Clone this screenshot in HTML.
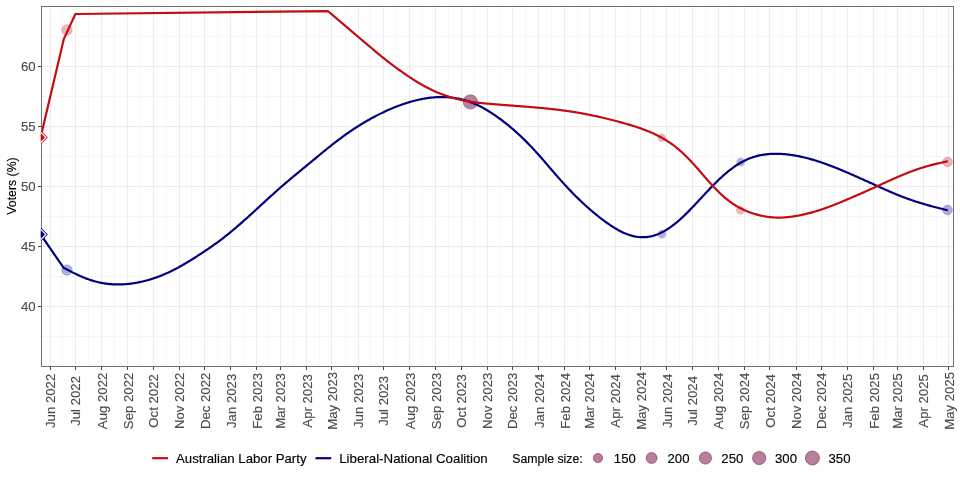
<!DOCTYPE html><html><head><meta charset="utf-8"><style>html,body{margin:0;padding:0;background:#fff;}svg{display:block;font-family:"Liberation Sans",sans-serif;will-change:transform;} text{stroke-width:0.15px;} .g{fill:#4d4d4d;stroke:#4d4d4d;} .k{fill:#000;stroke:#000;}</style></head><body>
<svg width="960" height="480" viewBox="0 0 960 480">
<defs><clipPath id="pc"><rect x="41.50" y="6.00" width="911.80" height="360.20"/></clipPath></defs>
<rect x="0" y="0" width="960" height="480" fill="#fff"/>
<path d="M62.50 6.00V366.20M88.50 6.00V366.20M114.50 6.00V366.20M140.50 6.00V366.20M166.50 6.00V366.20M191.50 6.00V366.20M217.50 6.00V366.20M243.50 6.00V366.20M268.50 6.00V366.20M293.50 6.00V366.20M319.50 6.00V366.20M345.50 6.00V366.20M370.50 6.00V366.20M396.50 6.00V366.20M422.50 6.00V366.20M448.50 6.00V366.20M474.50 6.00V366.20M499.50 6.00V366.20M525.50 6.00V366.20M551.50 6.00V366.20M577.50 6.00V366.20M602.50 6.00V366.20M628.50 6.00V366.20M653.50 6.00V366.20M679.50 6.00V366.20M705.50 6.00V366.20M731.50 6.00V366.20M757.50 6.00V366.20M782.50 6.00V366.20M808.50 6.00V366.20M834.50 6.00V366.20M860.50 6.00V366.20M885.50 6.00V366.20M910.50 6.00V366.20M936.50 6.00V366.20M41.50 336.50H953.30M41.50 276.50H953.30M41.50 216.50H953.30M41.50 156.50H953.30M41.50 96.50H953.30M41.50 36.50H953.30" stroke="#f6f6f6" stroke-width="1" fill="none"/>
<path d="M50.50 6.00V366.20M75.50 6.00V366.20M101.50 6.00V366.20M127.50 6.00V366.20M153.50 6.00V366.20M179.50 6.00V366.20M204.50 6.00V366.20M230.50 6.00V366.20M256.50 6.00V366.20M280.50 6.00V366.20M306.50 6.00V366.20M331.50 6.00V366.20M358.50 6.00V366.20M383.50 6.00V366.20M409.50 6.00V366.20M435.50 6.00V366.20M461.50 6.00V366.20M487.50 6.00V366.20M512.50 6.00V366.20M538.50 6.00V366.20M564.50 6.00V366.20M589.50 6.00V366.20M615.50 6.00V366.20M640.50 6.00V366.20M666.50 6.00V366.20M692.50 6.00V366.20M718.50 6.00V366.20M744.50 6.00V366.20M769.50 6.00V366.20M796.50 6.00V366.20M821.50 6.00V366.20M847.50 6.00V366.20M873.50 6.00V366.20M897.50 6.00V366.20M923.50 6.00V366.20M948.50 6.00V366.20M41.50 306.50H953.30M41.50 246.50H953.30M41.50 186.50H953.30M41.50 126.50H953.30M41.50 66.50H953.30" stroke="#ececec" stroke-width="1" fill="none"/>
<g clip-path="url(#pc)">
<circle cx="67.00" cy="270.00" r="5.30" fill="#000080" fill-opacity="0.30" stroke="#000080" stroke-opacity="0.30" stroke-width="0.6"/>
<circle cx="661.80" cy="234.30" r="4.30" fill="#000080" fill-opacity="0.30"/>
<circle cx="740.60" cy="162.10" r="4.30" fill="#000080" fill-opacity="0.30"/>
<circle cx="947.50" cy="210.00" r="4.90" fill="#000080" fill-opacity="0.30" stroke="#000080" stroke-opacity="0.30" stroke-width="0.6"/>
<circle cx="470.40" cy="101.90" r="7.20" fill="#000080" fill-opacity="0.30" stroke="#000080" stroke-opacity="0.30" stroke-width="0.6"/>
<circle cx="67.00" cy="30.00" r="5.30" fill="#c40c14" fill-opacity="0.30" stroke="#c40c14" stroke-opacity="0.30" stroke-width="0.6"/>
<circle cx="661.80" cy="137.80" r="4.20" fill="#c40c14" fill-opacity="0.30"/>
<circle cx="740.20" cy="210.20" r="4.20" fill="#c40c14" fill-opacity="0.30"/>
<circle cx="947.50" cy="162.00" r="4.90" fill="#c40c14" fill-opacity="0.30" stroke="#c40c14" stroke-opacity="0.30" stroke-width="0.6"/>
<circle cx="470.40" cy="101.90" r="7.20" fill="#c40c14" fill-opacity="0.30" stroke="#c40c14" stroke-opacity="0.30" stroke-width="0.6"/>
<path d="M40.60 234.40 L63.50 267.68 L64.50 268.21 L65.50 268.74 L66.50 269.27 L67.50 269.80 L68.50 270.32 L69.50 270.84 L70.50 271.36 L71.50 271.87 L72.50 272.37 L73.50 272.87 L74.50 273.37 L75.50 273.85 L76.50 274.33 L77.50 274.80 L78.50 275.27 L79.50 275.72 L80.50 276.16 L81.50 276.60 L82.50 277.02 L83.50 277.44 L84.50 277.84 L85.50 278.23 L86.50 278.61 L87.50 278.98 L88.50 279.34 L89.50 279.68 L90.50 280.02 L91.50 280.34 L92.50 280.65 L93.50 280.95 L94.50 281.23 L95.50 281.51 L96.50 281.77 L97.50 282.02 L98.50 282.25 L99.50 282.48 L100.50 282.69 L101.50 282.89 L102.50 283.08 L103.50 283.25 L104.50 283.42 L105.50 283.57 L106.50 283.71 L107.50 283.83 L108.50 283.95 L109.50 284.05 L110.50 284.14 L111.50 284.22 L112.50 284.29 L113.50 284.35 L114.50 284.39 L115.50 284.43 L116.50 284.45 L117.50 284.46 L118.50 284.46 L119.50 284.45 L120.50 284.43 L121.50 284.40 L122.50 284.36 L123.50 284.31 L124.50 284.25 L125.50 284.18 L126.50 284.09 L127.50 284.00 L128.50 283.90 L129.50 283.79 L130.50 283.67 L131.50 283.54 L132.50 283.40 L133.50 283.25 L134.50 283.09 L135.50 282.92 L136.50 282.75 L137.50 282.56 L138.50 282.37 L139.50 282.16 L140.50 281.95 L141.50 281.73 L142.50 281.50 L143.50 281.26 L144.50 281.01 L145.50 280.76 L146.50 280.49 L147.50 280.22 L148.50 279.94 L149.50 279.65 L150.50 279.35 L151.50 279.04 L152.50 278.72 L153.50 278.39 L154.50 278.06 L155.50 277.72 L156.50 277.36 L157.50 277.00 L158.50 276.63 L159.50 276.25 L160.50 275.86 L161.50 275.46 L162.50 275.05 L163.50 274.64 L164.50 274.21 L165.50 273.78 L166.50 273.34 L167.50 272.88 L168.50 272.42 L169.50 271.95 L170.50 271.47 L171.50 270.99 L172.50 270.49 L173.50 269.99 L174.50 269.48 L175.50 268.96 L176.50 268.43 L177.50 267.89 L178.50 267.35 L179.50 266.80 L180.50 266.24 L181.50 265.68 L182.50 265.11 L183.50 264.53 L184.50 263.95 L185.50 263.36 L186.50 262.76 L187.50 262.16 L188.50 261.56 L189.50 260.95 L190.50 260.34 L191.50 259.72 L192.50 259.10 L193.50 258.47 L194.50 257.85 L195.50 257.21 L196.50 256.58 L197.50 255.94 L198.50 255.30 L199.50 254.65 L200.50 254.00 L201.50 253.35 L202.50 252.69 L203.50 252.03 L204.50 251.36 L205.50 250.69 L206.50 250.02 L207.50 249.34 L208.50 248.66 L209.50 247.97 L210.50 247.28 L211.50 246.59 L212.50 245.89 L213.50 245.18 L214.50 244.47 L215.50 243.75 L216.50 243.02 L217.50 242.29 L218.50 241.56 L219.50 240.81 L220.50 240.06 L221.50 239.30 L222.50 238.54 L223.50 237.77 L224.50 236.99 L225.50 236.20 L226.50 235.41 L227.50 234.61 L228.50 233.80 L229.50 232.99 L230.50 232.17 L231.50 231.35 L232.50 230.52 L233.50 229.68 L234.50 228.84 L235.50 227.99 L236.50 227.14 L237.50 226.28 L238.50 225.42 L239.50 224.55 L240.50 223.68 L241.50 222.81 L242.50 221.93 L243.50 221.04 L244.50 220.16 L245.50 219.27 L246.50 218.37 L247.50 217.47 L248.50 216.57 L249.50 215.67 L250.50 214.76 L251.50 213.85 L252.50 212.94 L253.50 212.02 L254.50 211.11 L255.50 210.19 L256.50 209.27 L257.50 208.35 L258.50 207.43 L259.50 206.51 L260.50 205.58 L261.50 204.66 L262.50 203.74 L263.50 202.82 L264.50 201.90 L265.50 200.98 L266.50 200.06 L267.50 199.15 L268.50 198.23 L269.50 197.32 L270.50 196.41 L271.50 195.51 L272.50 194.61 L273.50 193.71 L274.50 192.81 L275.50 191.92 L276.50 191.03 L277.50 190.15 L278.50 189.27 L279.50 188.39 L280.50 187.52 L281.50 186.65 L282.50 185.78 L283.50 184.91 L284.50 184.05 L285.50 183.20 L286.50 182.34 L287.50 181.49 L288.50 180.65 L289.50 179.80 L290.50 178.96 L291.50 178.12 L292.50 177.28 L293.50 176.45 L294.50 175.62 L295.50 174.79 L296.50 173.96 L297.50 173.13 L298.50 172.30 L299.50 171.48 L300.50 170.65 L301.50 169.83 L302.50 169.01 L303.50 168.18 L304.50 167.36 L305.50 166.54 L306.50 165.72 L307.50 164.89 L308.50 164.07 L309.50 163.25 L310.50 162.42 L311.50 161.60 L312.50 160.77 L313.50 159.94 L314.50 159.11 L315.50 158.29 L316.50 157.46 L317.50 156.63 L318.50 155.81 L319.50 154.98 L320.50 154.16 L321.50 153.34 L322.50 152.52 L323.50 151.70 L324.50 150.88 L325.50 150.06 L326.50 149.25 L327.50 148.44 L328.50 147.64 L329.50 146.83 L330.50 146.04 L331.50 145.24 L332.50 144.45 L333.50 143.66 L334.50 142.88 L335.50 142.11 L336.50 141.33 L337.50 140.57 L338.50 139.81 L339.50 139.06 L340.50 138.31 L341.50 137.57 L342.50 136.83 L343.50 136.11 L344.50 135.38 L345.50 134.67 L346.50 133.96 L347.50 133.26 L348.50 132.56 L349.50 131.87 L350.50 131.19 L351.50 130.52 L352.50 129.85 L353.50 129.18 L354.50 128.53 L355.50 127.88 L356.50 127.23 L357.50 126.60 L358.50 125.96 L359.50 125.34 L360.50 124.72 L361.50 124.11 L362.50 123.50 L363.50 122.90 L364.50 122.31 L365.50 121.72 L366.50 121.13 L367.50 120.56 L368.50 119.99 L369.50 119.42 L370.50 118.86 L371.50 118.31 L372.50 117.76 L373.50 117.22 L374.50 116.69 L375.50 116.16 L376.50 115.63 L377.50 115.12 L378.50 114.61 L379.50 114.11 L380.50 113.61 L381.50 113.12 L382.50 112.64 L383.50 112.16 L384.50 111.69 L385.50 111.22 L386.50 110.77 L387.50 110.32 L388.50 109.87 L389.50 109.44 L390.50 109.01 L391.50 108.58 L392.50 108.16 L393.50 107.75 L394.50 107.35 L395.50 106.95 L396.50 106.56 L397.50 106.18 L398.50 105.80 L399.50 105.43 L400.50 105.07 L401.50 104.71 L402.50 104.36 L403.50 104.02 L404.50 103.68 L405.50 103.35 L406.50 103.03 L407.50 102.71 L408.50 102.41 L409.50 102.11 L410.50 101.81 L411.50 101.53 L412.50 101.25 L413.50 100.98 L414.50 100.72 L415.50 100.46 L416.50 100.22 L417.50 99.98 L418.50 99.75 L419.50 99.53 L420.50 99.32 L421.50 99.12 L422.50 98.92 L423.50 98.74 L424.50 98.56 L425.50 98.40 L426.50 98.24 L427.50 98.10 L428.50 97.96 L429.50 97.83 L430.50 97.71 L431.50 97.61 L432.50 97.51 L433.50 97.42 L434.50 97.34 L435.50 97.27 L436.50 97.22 L437.50 97.17 L438.50 97.13 L439.50 97.10 L440.50 97.09 L441.50 97.08 L442.50 97.08 L443.50 97.10 L444.50 97.12 L445.50 97.16 L446.50 97.21 L447.50 97.26 L448.50 97.34 L449.50 97.42 L450.50 97.51 L451.50 97.62 L452.50 97.73 L453.50 97.86 L454.50 98.01 L455.50 98.16 L456.50 98.33 L457.50 98.51 L458.50 98.70 L459.50 98.91 L460.50 99.13 L461.50 99.36 L462.50 99.61 L463.50 99.87 L464.50 100.15 L465.50 100.44 L466.50 100.75 L467.50 101.06 L468.50 101.40 L469.50 101.75 L470.50 102.11 L471.50 102.49 L472.50 102.89 L473.50 103.30 L474.50 103.72 L475.50 104.16 L476.50 104.61 L477.50 105.08 L478.50 105.56 L479.50 106.05 L480.50 106.56 L481.50 107.08 L482.50 107.61 L483.50 108.16 L484.50 108.72 L485.50 109.29 L486.50 109.88 L487.50 110.47 L488.50 111.08 L489.50 111.70 L490.50 112.34 L491.50 112.98 L492.50 113.63 L493.50 114.30 L494.50 114.98 L495.50 115.66 L496.50 116.36 L497.50 117.07 L498.50 117.78 L499.50 118.51 L500.50 119.25 L501.50 119.99 L502.50 120.75 L503.50 121.51 L504.50 122.28 L505.50 123.07 L506.50 123.86 L507.50 124.66 L508.50 125.47 L509.50 126.30 L510.50 127.13 L511.50 127.97 L512.50 128.82 L513.50 129.68 L514.50 130.55 L515.50 131.44 L516.50 132.33 L517.50 133.23 L518.50 134.15 L519.50 135.07 L520.50 136.01 L521.50 136.96 L522.50 137.92 L523.50 138.88 L524.50 139.86 L525.50 140.86 L526.50 141.86 L527.50 142.87 L528.50 143.90 L529.50 144.93 L530.50 145.98 L531.50 147.04 L532.50 148.11 L533.50 149.18 L534.50 150.27 L535.50 151.37 L536.50 152.47 L537.50 153.58 L538.50 154.70 L539.50 155.83 L540.50 156.96 L541.50 158.10 L542.50 159.25 L543.50 160.40 L544.50 161.55 L545.50 162.71 L546.50 163.87 L547.50 165.03 L548.50 166.19 L549.50 167.35 L550.50 168.51 L551.50 169.68 L552.50 170.84 L553.50 171.99 L554.50 173.15 L555.50 174.30 L556.50 175.45 L557.50 176.60 L558.50 177.73 L559.50 178.87 L560.50 179.99 L561.50 181.11 L562.50 182.22 L563.50 183.33 L564.50 184.43 L565.50 185.51 L566.50 186.60 L567.50 187.67 L568.50 188.73 L569.50 189.79 L570.50 190.84 L571.50 191.87 L572.50 192.90 L573.50 193.92 L574.50 194.94 L575.50 195.94 L576.50 196.93 L577.50 197.91 L578.50 198.89 L579.50 199.85 L580.50 200.81 L581.50 201.75 L582.50 202.69 L583.50 203.61 L584.50 204.53 L585.50 205.44 L586.50 206.34 L587.50 207.23 L588.50 208.12 L589.50 208.99 L590.50 209.86 L591.50 210.72 L592.50 211.57 L593.50 212.42 L594.50 213.25 L595.50 214.08 L596.50 214.90 L597.50 215.71 L598.50 216.51 L599.50 217.30 L600.50 218.08 L601.50 218.85 L602.50 219.61 L603.50 220.36 L604.50 221.11 L605.50 221.84 L606.50 222.56 L607.50 223.26 L608.50 223.96 L609.50 224.65 L610.50 225.32 L611.50 225.98 L612.50 226.63 L613.50 227.26 L614.50 227.88 L615.50 228.48 L616.50 229.07 L617.50 229.65 L618.50 230.20 L619.50 230.74 L620.50 231.26 L621.50 231.76 L622.50 232.24 L623.50 232.70 L624.50 233.14 L625.50 233.56 L626.50 233.96 L627.50 234.34 L628.50 234.70 L629.50 235.03 L630.50 235.34 L631.50 235.63 L632.50 235.90 L633.50 236.14 L634.50 236.36 L635.50 236.55 L636.50 236.72 L637.50 236.87 L638.50 236.99 L639.50 237.09 L640.50 237.16 L641.50 237.20 L642.50 237.22 L643.50 237.21 L644.50 237.18 L645.50 237.12 L646.50 237.03 L647.50 236.92 L648.50 236.78 L649.50 236.61 L650.50 236.42 L651.50 236.20 L652.50 235.95 L653.50 235.68 L654.50 235.38 L655.50 235.05 L656.50 234.70 L657.50 234.33 L658.50 233.93 L659.50 233.50 L660.50 233.05 L661.50 232.57 L662.50 232.07 L663.50 231.54 L664.50 230.99 L665.50 230.41 L666.50 229.81 L667.50 229.19 L668.50 228.54 L669.50 227.87 L670.50 227.18 L671.50 226.46 L672.50 225.73 L673.50 224.97 L674.50 224.19 L675.50 223.38 L676.50 222.56 L677.50 221.72 L678.50 220.86 L679.50 219.98 L680.50 219.09 L681.50 218.18 L682.50 217.25 L683.50 216.30 L684.50 215.34 L685.50 214.37 L686.50 213.39 L687.50 212.39 L688.50 211.38 L689.50 210.36 L690.50 209.33 L691.50 208.29 L692.50 207.25 L693.50 206.20 L694.50 205.14 L695.50 204.07 L696.50 203.00 L697.50 201.93 L698.50 200.86 L699.50 199.78 L700.50 198.70 L701.50 197.63 L702.50 196.55 L703.50 195.47 L704.50 194.40 L705.50 193.33 L706.50 192.27 L707.50 191.20 L708.50 190.15 L709.50 189.10 L710.50 188.05 L711.50 187.02 L712.50 185.99 L713.50 184.97 L714.50 183.96 L715.50 182.96 L716.50 181.97 L717.50 180.99 L718.50 180.03 L719.50 179.07 L720.50 178.13 L721.50 177.21 L722.50 176.29 L723.50 175.39 L724.50 174.51 L725.50 173.64 L726.50 172.79 L727.50 171.96 L728.50 171.14 L729.50 170.34 L730.50 169.56 L731.50 168.79 L732.50 168.05 L733.50 167.32 L734.50 166.61 L735.50 165.93 L736.50 165.26 L737.50 164.61 L738.50 163.98 L739.50 163.38 L740.50 162.79 L741.50 162.23 L742.50 161.69 L743.50 161.16 L744.50 160.66 L745.50 160.18 L746.50 159.72 L747.50 159.28 L748.50 158.85 L749.50 158.45 L750.50 158.07 L751.50 157.71 L752.50 157.36 L753.50 157.04 L754.50 156.73 L755.50 156.44 L756.50 156.16 L757.50 155.91 L758.50 155.67 L759.50 155.44 L760.50 155.23 L761.50 155.04 L762.50 154.86 L763.50 154.70 L764.50 154.55 L765.50 154.42 L766.50 154.30 L767.50 154.19 L768.50 154.10 L769.50 154.02 L770.50 153.95 L771.50 153.89 L772.50 153.85 L773.50 153.82 L774.50 153.79 L775.50 153.78 L776.50 153.79 L777.50 153.80 L778.50 153.82 L779.50 153.85 L780.50 153.89 L781.50 153.95 L782.50 154.01 L783.50 154.08 L784.50 154.16 L785.50 154.25 L786.50 154.35 L787.50 154.46 L788.50 154.58 L789.50 154.70 L790.50 154.84 L791.50 154.98 L792.50 155.13 L793.50 155.29 L794.50 155.45 L795.50 155.63 L796.50 155.81 L797.50 156.00 L798.50 156.19 L799.50 156.39 L800.50 156.60 L801.50 156.82 L802.50 157.04 L803.50 157.27 L804.50 157.51 L805.50 157.75 L806.50 158.00 L807.50 158.26 L808.50 158.52 L809.50 158.79 L810.50 159.07 L811.50 159.35 L812.50 159.64 L813.50 159.93 L814.50 160.23 L815.50 160.54 L816.50 160.85 L817.50 161.16 L818.50 161.49 L819.50 161.81 L820.50 162.15 L821.50 162.48 L822.50 162.83 L823.50 163.17 L824.50 163.52 L825.50 163.88 L826.50 164.24 L827.50 164.61 L828.50 164.97 L829.50 165.35 L830.50 165.73 L831.50 166.11 L832.50 166.49 L833.50 166.88 L834.50 167.28 L835.50 167.68 L836.50 168.08 L837.50 168.48 L838.50 168.89 L839.50 169.30 L840.50 169.71 L841.50 170.13 L842.50 170.54 L843.50 170.96 L844.50 171.39 L845.50 171.81 L846.50 172.24 L847.50 172.67 L848.50 173.10 L849.50 173.53 L850.50 173.97 L851.50 174.41 L852.50 174.85 L853.50 175.29 L854.50 175.73 L855.50 176.17 L856.50 176.61 L857.50 177.06 L858.50 177.51 L859.50 177.95 L860.50 178.40 L861.50 178.85 L862.50 179.30 L863.50 179.75 L864.50 180.20 L865.50 180.65 L866.50 181.10 L867.50 181.56 L868.50 182.01 L869.50 182.46 L870.50 182.92 L871.50 183.37 L872.50 183.83 L873.50 184.28 L874.50 184.74 L875.50 185.19 L876.50 185.64 L877.50 186.10 L878.50 186.55 L879.50 187.00 L880.50 187.45 L881.50 187.91 L882.50 188.35 L883.50 188.80 L884.50 189.25 L885.50 189.69 L886.50 190.14 L887.50 190.58 L888.50 191.02 L889.50 191.45 L890.50 191.88 L891.50 192.31 L892.50 192.74 L893.50 193.17 L894.50 193.59 L895.50 194.00 L896.50 194.41 L897.50 194.82 L898.50 195.23 L899.50 195.63 L900.50 196.02 L901.50 196.41 L902.50 196.80 L903.50 197.18 L904.50 197.56 L905.50 197.93 L906.50 198.30 L907.50 198.66 L908.50 199.02 L909.50 199.38 L910.50 199.73 L911.50 200.07 L912.50 200.42 L913.50 200.75 L914.50 201.09 L915.50 201.42 L916.50 201.74 L917.50 202.06 L918.50 202.38 L919.50 202.70 L920.50 203.01 L921.50 203.31 L922.50 203.61 L923.50 203.91 L924.50 204.21 L925.50 204.50 L926.50 204.79 L927.50 205.08 L928.50 205.36 L929.50 205.64 L930.50 205.91 L931.50 206.19 L932.50 206.46 L933.50 206.73 L934.50 206.99 L935.50 207.25 L936.50 207.51 L937.50 207.77 L938.50 208.03 L939.50 208.28 L940.50 208.53 L941.50 208.78 L942.50 209.03 L943.50 209.28 L944.50 209.52 L945.50 209.77 L946.50 210.01 L947.50 210.25 L947.80 210.33" stroke="#000080" stroke-width="2.2" fill="none" stroke-linejoin="round" stroke-linecap="butt"/>
<path d="M40.60 137.40 L63.70 39.40 L75.40 14.00 L328.00 11.10 L329.00 11.96 L330.00 12.82 L331.00 13.68 L332.00 14.53 L333.00 15.39 L334.00 16.25 L335.00 17.11 L336.00 17.96 L337.00 18.82 L338.00 19.68 L339.00 20.53 L340.00 21.39 L341.00 22.24 L342.00 23.10 L343.00 23.95 L344.00 24.80 L345.00 25.65 L346.00 26.51 L347.00 27.36 L348.00 28.21 L349.00 29.06 L350.00 29.91 L351.00 30.76 L352.00 31.60 L353.00 32.45 L354.00 33.30 L355.00 34.15 L356.00 34.99 L357.00 35.84 L358.00 36.69 L359.00 37.53 L360.00 38.38 L361.00 39.23 L362.00 40.07 L363.00 40.92 L364.00 41.77 L365.00 42.61 L366.00 43.46 L367.00 44.30 L368.00 45.15 L369.00 45.99 L370.00 46.84 L371.00 47.68 L372.00 48.52 L373.00 49.37 L374.00 50.21 L375.00 51.04 L376.00 51.88 L377.00 52.71 L378.00 53.54 L379.00 54.36 L380.00 55.18 L381.00 56.00 L382.00 56.81 L383.00 57.62 L384.00 58.42 L385.00 59.21 L386.00 60.00 L387.00 60.78 L388.00 61.56 L389.00 62.34 L390.00 63.10 L391.00 63.87 L392.00 64.62 L393.00 65.38 L394.00 66.12 L395.00 66.87 L396.00 67.60 L397.00 68.33 L398.00 69.06 L399.00 69.78 L400.00 70.50 L401.00 71.21 L402.00 71.91 L403.00 72.61 L404.00 73.31 L405.00 74.00 L406.00 74.69 L407.00 75.37 L408.00 76.04 L409.00 76.71 L410.00 77.37 L411.00 78.03 L412.00 78.69 L413.00 79.33 L414.00 79.97 L415.00 80.61 L416.00 81.23 L417.00 81.85 L418.00 82.46 L419.00 83.06 L420.00 83.65 L421.00 84.23 L422.00 84.81 L423.00 85.37 L424.00 85.93 L425.00 86.47 L426.00 87.01 L427.00 87.53 L428.00 88.05 L429.00 88.56 L430.00 89.05 L431.00 89.54 L432.00 90.01 L433.00 90.48 L434.00 90.94 L435.00 91.39 L436.00 91.82 L437.00 92.25 L438.00 92.67 L439.00 93.08 L440.00 93.49 L441.00 93.88 L442.00 94.26 L443.00 94.64 L444.00 95.01 L445.00 95.36 L446.00 95.71 L447.00 96.05 L448.00 96.39 L449.00 96.71 L450.00 97.02 L451.00 97.33 L452.00 97.63 L453.00 97.92 L454.00 98.20 L455.00 98.47 L456.00 98.73 L457.00 98.99 L458.00 99.24 L459.00 99.47 L460.00 99.71 L461.00 99.93 L462.00 100.14 L463.00 100.35 L464.00 100.55 L465.00 100.74 L466.00 100.93 L467.00 101.11 L468.00 101.28 L469.00 101.44 L470.00 101.60 L471.00 101.76 L472.00 101.91 L473.00 102.05 L474.00 102.18 L475.00 102.32 L476.00 102.44 L477.00 102.56 L478.00 102.68 L479.00 102.80 L480.00 102.91 L481.00 103.01 L482.00 103.12 L483.00 103.22 L484.00 103.32 L485.00 103.41 L486.00 103.50 L487.00 103.60 L488.00 103.68 L489.00 103.77 L490.00 103.86 L491.00 103.94 L492.00 104.03 L493.00 104.11 L494.00 104.19 L495.00 104.28 L496.00 104.36 L497.00 104.44 L498.00 104.52 L499.00 104.60 L500.00 104.68 L501.00 104.75 L502.00 104.83 L503.00 104.91 L504.00 104.99 L505.00 105.07 L506.00 105.14 L507.00 105.22 L508.00 105.30 L509.00 105.37 L510.00 105.45 L511.00 105.53 L512.00 105.60 L513.00 105.68 L514.00 105.76 L515.00 105.83 L516.00 105.91 L517.00 105.99 L518.00 106.07 L519.00 106.14 L520.00 106.22 L521.00 106.30 L522.00 106.38 L523.00 106.46 L524.00 106.53 L525.00 106.61 L526.00 106.69 L527.00 106.77 L528.00 106.86 L529.00 106.94 L530.00 107.02 L531.00 107.10 L532.00 107.19 L533.00 107.27 L534.00 107.36 L535.00 107.44 L536.00 107.53 L537.00 107.62 L538.00 107.71 L539.00 107.80 L540.00 107.89 L541.00 107.98 L542.00 108.08 L543.00 108.17 L544.00 108.27 L545.00 108.37 L546.00 108.46 L547.00 108.57 L548.00 108.67 L549.00 108.77 L550.00 108.88 L551.00 108.98 L552.00 109.09 L553.00 109.20 L554.00 109.32 L555.00 109.43 L556.00 109.55 L557.00 109.66 L558.00 109.78 L559.00 109.91 L560.00 110.03 L561.00 110.16 L562.00 110.29 L563.00 110.42 L564.00 110.55 L565.00 110.69 L566.00 110.83 L567.00 110.97 L568.00 111.11 L569.00 111.25 L570.00 111.40 L571.00 111.55 L572.00 111.70 L573.00 111.86 L574.00 112.02 L575.00 112.18 L576.00 112.34 L577.00 112.51 L578.00 112.68 L579.00 112.85 L580.00 113.02 L581.00 113.20 L582.00 113.38 L583.00 113.57 L584.00 113.75 L585.00 113.94 L586.00 114.13 L587.00 114.33 L588.00 114.52 L589.00 114.72 L590.00 114.92 L591.00 115.13 L592.00 115.34 L593.00 115.55 L594.00 115.76 L595.00 115.97 L596.00 116.19 L597.00 116.41 L598.00 116.63 L599.00 116.86 L600.00 117.08 L601.00 117.31 L602.00 117.55 L603.00 117.78 L604.00 118.02 L605.00 118.25 L606.00 118.49 L607.00 118.74 L608.00 118.98 L609.00 119.23 L610.00 119.48 L611.00 119.73 L612.00 119.98 L613.00 120.24 L614.00 120.50 L615.00 120.76 L616.00 121.02 L617.00 121.28 L618.00 121.55 L619.00 121.82 L620.00 122.09 L621.00 122.36 L622.00 122.63 L623.00 122.91 L624.00 123.19 L625.00 123.47 L626.00 123.75 L627.00 124.04 L628.00 124.33 L629.00 124.63 L630.00 124.92 L631.00 125.23 L632.00 125.53 L633.00 125.84 L634.00 126.16 L635.00 126.47 L636.00 126.80 L637.00 127.13 L638.00 127.46 L639.00 127.80 L640.00 128.15 L641.00 128.50 L642.00 128.86 L643.00 129.22 L644.00 129.60 L645.00 129.98 L646.00 130.36 L647.00 130.76 L648.00 131.16 L649.00 131.57 L650.00 131.99 L651.00 132.42 L652.00 132.86 L653.00 133.31 L654.00 133.77 L655.00 134.24 L656.00 134.72 L657.00 135.21 L658.00 135.71 L659.00 136.23 L660.00 136.75 L661.00 137.29 L662.00 137.85 L663.00 138.41 L664.00 138.99 L665.00 139.59 L666.00 140.20 L667.00 140.83 L668.00 141.47 L669.00 142.13 L670.00 142.80 L671.00 143.50 L672.00 144.21 L673.00 144.94 L674.00 145.69 L675.00 146.46 L676.00 147.25 L677.00 148.05 L678.00 148.88 L679.00 149.72 L680.00 150.59 L681.00 151.47 L682.00 152.37 L683.00 153.29 L684.00 154.23 L685.00 155.19 L686.00 156.17 L687.00 157.16 L688.00 158.18 L689.00 159.21 L690.00 160.25 L691.00 161.31 L692.00 162.39 L693.00 163.48 L694.00 164.59 L695.00 165.70 L696.00 166.83 L697.00 167.96 L698.00 169.10 L699.00 170.25 L700.00 171.40 L701.00 172.56 L702.00 173.71 L703.00 174.87 L704.00 176.03 L705.00 177.18 L706.00 178.33 L707.00 179.48 L708.00 180.62 L709.00 181.75 L710.00 182.87 L711.00 183.98 L712.00 185.07 L713.00 186.16 L714.00 187.22 L715.00 188.28 L716.00 189.32 L717.00 190.34 L718.00 191.34 L719.00 192.32 L720.00 193.29 L721.00 194.23 L722.00 195.15 L723.00 196.06 L724.00 196.94 L725.00 197.79 L726.00 198.63 L727.00 199.44 L728.00 200.23 L729.00 201.00 L730.00 201.75 L731.00 202.47 L732.00 203.17 L733.00 203.85 L734.00 204.50 L735.00 205.13 L736.00 205.75 L737.00 206.34 L738.00 206.91 L739.00 207.46 L740.00 208.00 L741.00 208.51 L742.00 209.01 L743.00 209.49 L744.00 209.96 L745.00 210.40 L746.00 210.83 L747.00 211.25 L748.00 211.65 L749.00 212.03 L750.00 212.41 L751.00 212.76 L752.00 213.11 L753.00 213.44 L754.00 213.75 L755.00 214.06 L756.00 214.35 L757.00 214.63 L758.00 214.89 L759.00 215.14 L760.00 215.38 L761.00 215.61 L762.00 215.83 L763.00 216.03 L764.00 216.22 L765.00 216.40 L766.00 216.56 L767.00 216.72 L768.00 216.86 L769.00 216.98 L770.00 217.10 L771.00 217.20 L772.00 217.29 L773.00 217.37 L774.00 217.44 L775.00 217.49 L776.00 217.53 L777.00 217.56 L778.00 217.58 L779.00 217.58 L780.00 217.58 L781.00 217.56 L782.00 217.53 L783.00 217.49 L784.00 217.44 L785.00 217.37 L786.00 217.30 L787.00 217.22 L788.00 217.12 L789.00 217.02 L790.00 216.91 L791.00 216.78 L792.00 216.65 L793.00 216.51 L794.00 216.35 L795.00 216.19 L796.00 216.02 L797.00 215.85 L798.00 215.66 L799.00 215.47 L800.00 215.27 L801.00 215.06 L802.00 214.85 L803.00 214.63 L804.00 214.40 L805.00 214.17 L806.00 213.92 L807.00 213.68 L808.00 213.42 L809.00 213.17 L810.00 212.90 L811.00 212.63 L812.00 212.35 L813.00 212.07 L814.00 211.78 L815.00 211.49 L816.00 211.19 L817.00 210.89 L818.00 210.58 L819.00 210.26 L820.00 209.94 L821.00 209.61 L822.00 209.28 L823.00 208.94 L824.00 208.60 L825.00 208.26 L826.00 207.90 L827.00 207.55 L828.00 207.18 L829.00 206.82 L830.00 206.45 L831.00 206.07 L832.00 205.69 L833.00 205.30 L834.00 204.91 L835.00 204.52 L836.00 204.12 L837.00 203.72 L838.00 203.32 L839.00 202.91 L840.00 202.50 L841.00 202.09 L842.00 201.67 L843.00 201.25 L844.00 200.83 L845.00 200.41 L846.00 199.99 L847.00 199.56 L848.00 199.13 L849.00 198.71 L850.00 198.28 L851.00 197.85 L852.00 197.42 L853.00 196.98 L854.00 196.55 L855.00 196.12 L856.00 195.68 L857.00 195.25 L858.00 194.81 L859.00 194.38 L860.00 193.94 L861.00 193.50 L862.00 193.06 L863.00 192.62 L864.00 192.18 L865.00 191.74 L866.00 191.29 L867.00 190.85 L868.00 190.40 L869.00 189.96 L870.00 189.51 L871.00 189.06 L872.00 188.60 L873.00 188.15 L874.00 187.69 L875.00 187.24 L876.00 186.78 L877.00 186.32 L878.00 185.86 L879.00 185.41 L880.00 184.95 L881.00 184.49 L882.00 184.03 L883.00 183.57 L884.00 183.11 L885.00 182.65 L886.00 182.20 L887.00 181.74 L888.00 181.29 L889.00 180.83 L890.00 180.38 L891.00 179.93 L892.00 179.48 L893.00 179.04 L894.00 178.60 L895.00 178.15 L896.00 177.72 L897.00 177.28 L898.00 176.85 L899.00 176.42 L900.00 175.99 L901.00 175.57 L902.00 175.15 L903.00 174.74 L904.00 174.33 L905.00 173.92 L906.00 173.52 L907.00 173.12 L908.00 172.73 L909.00 172.34 L910.00 171.96 L911.00 171.58 L912.00 171.20 L913.00 170.83 L914.00 170.47 L915.00 170.11 L916.00 169.75 L917.00 169.41 L918.00 169.06 L919.00 168.73 L920.00 168.40 L921.00 168.07 L922.00 167.75 L923.00 167.44 L924.00 167.14 L925.00 166.84 L926.00 166.54 L927.00 166.26 L928.00 165.97 L929.00 165.70 L930.00 165.43 L931.00 165.16 L932.00 164.90 L933.00 164.64 L934.00 164.39 L935.00 164.15 L936.00 163.90 L937.00 163.67 L938.00 163.43 L939.00 163.20 L940.00 162.97 L941.00 162.74 L942.00 162.52 L943.00 162.30 L944.00 162.07 L945.00 161.85 L946.00 161.64 L947.00 161.42 L947.80 161.24" stroke="#c40c14" stroke-width="2.2" fill="none" stroke-linejoin="round" stroke-linecap="butt"/>
</g>
<rect x="41.5" y="6.5" width="912" height="360" fill="none" stroke="#707070" stroke-width="1"/>
<defs><clipPath id="dc"><rect x="40.8" y="6" width="20" height="360"/></clipPath></defs><g clip-path="url(#dc)">
<polygon points="41.20,130.80 47.80,137.40 41.20,144.00 34.60,137.40" fill="#c40c14"/>
<polygon points="41.20,131.90 46.70,137.40 41.20,142.90 35.70,137.40" fill="#fff"/>
<polygon points="41.20,133.60 45.00,137.40 41.20,141.20 37.40,137.40" fill="#c40c14"/>
<polygon points="41.20,227.80 47.80,234.40 41.20,241.00 34.60,234.40" fill="#000080"/>
<polygon points="41.20,228.90 46.70,234.40 41.20,239.90 35.70,234.40" fill="#fff"/>
<polygon points="41.20,230.60 45.00,234.40 41.20,238.20 37.40,234.40" fill="#000080"/>
</g>
<path d="M50.50 367V370M75.50 367V370M101.50 367V370M127.50 367V370M153.50 367V370M179.50 367V370M204.50 367V370M230.50 367V370M256.50 367V370M280.50 367V370M306.50 367V370M331.50 367V370M358.50 367V370M383.50 367V370M409.50 367V370M435.50 367V370M461.50 367V370M487.50 367V370M512.50 367V370M538.50 367V370M564.50 367V370M589.50 367V370M615.50 367V370M640.50 367V370M666.50 367V370M692.50 367V370M718.50 367V370M744.50 367V370M769.50 367V370M796.50 367V370M821.50 367V370M847.50 367V370M873.50 367V370M897.50 367V370M923.50 367V370M948.50 367V370M38 306.50H41M38 246.50H41M38 186.50H41M38 126.50H41M38 66.50H41" stroke="#444" stroke-width="1" fill="none"/>
<text x="35.6" y="310.90" font-size="13.2" class="g" text-anchor="end">40</text>
<text x="35.6" y="250.86" font-size="13.2" class="g" text-anchor="end">45</text>
<text x="35.6" y="190.82" font-size="13.2" class="g" text-anchor="end">50</text>
<text x="35.6" y="130.78" font-size="13.2" class="g" text-anchor="end">55</text>
<text x="35.6" y="70.74" font-size="13.2" class="g" text-anchor="end">60</text>
<text transform="translate(55.10 400.9) rotate(-90)" font-size="13.2" class="g" text-anchor="middle">Jun 2022</text>
<text transform="translate(80.41 400.9) rotate(-90)" font-size="13.2" class="g" text-anchor="middle">Jul 2022</text>
<text transform="translate(106.57 400.9) rotate(-90)" font-size="13.2" class="g" text-anchor="middle">Aug 2022</text>
<text transform="translate(132.72 400.9) rotate(-90)" font-size="13.2" class="g" text-anchor="middle">Sep 2022</text>
<text transform="translate(158.03 400.9) rotate(-90)" font-size="13.2" class="g" text-anchor="middle">Oct 2022</text>
<text transform="translate(184.19 400.9) rotate(-90)" font-size="13.2" class="g" text-anchor="middle">Nov 2022</text>
<text transform="translate(209.50 400.9) rotate(-90)" font-size="13.2" class="g" text-anchor="middle">Dec 2022</text>
<text transform="translate(235.65 400.9) rotate(-90)" font-size="13.2" class="g" text-anchor="middle">Jan 2023</text>
<text transform="translate(261.81 400.9) rotate(-90)" font-size="13.2" class="g" text-anchor="middle">Feb 2023</text>
<text transform="translate(285.43 400.9) rotate(-90)" font-size="13.2" class="g" text-anchor="middle">Mar 2023</text>
<text transform="translate(311.59 400.9) rotate(-90)" font-size="13.2" class="g" text-anchor="middle">Apr 2023</text>
<text transform="translate(336.90 400.9) rotate(-90)" font-size="13.2" class="g" text-anchor="middle">May 2023</text>
<text transform="translate(363.05 400.9) rotate(-90)" font-size="13.2" class="g" text-anchor="middle">Jun 2023</text>
<text transform="translate(388.37 400.9) rotate(-90)" font-size="13.2" class="g" text-anchor="middle">Jul 2023</text>
<text transform="translate(414.52 400.9) rotate(-90)" font-size="13.2" class="g" text-anchor="middle">Aug 2023</text>
<text transform="translate(440.67 400.9) rotate(-90)" font-size="13.2" class="g" text-anchor="middle">Sep 2023</text>
<text transform="translate(465.99 400.9) rotate(-90)" font-size="13.2" class="g" text-anchor="middle">Oct 2023</text>
<text transform="translate(492.14 400.9) rotate(-90)" font-size="13.2" class="g" text-anchor="middle">Nov 2023</text>
<text transform="translate(517.45 400.9) rotate(-90)" font-size="13.2" class="g" text-anchor="middle">Dec 2023</text>
<text transform="translate(543.61 400.9) rotate(-90)" font-size="13.2" class="g" text-anchor="middle">Jan 2024</text>
<text transform="translate(569.76 400.9) rotate(-90)" font-size="13.2" class="g" text-anchor="middle">Feb 2024</text>
<text transform="translate(594.23 400.9) rotate(-90)" font-size="13.2" class="g" text-anchor="middle">Mar 2024</text>
<text transform="translate(620.38 400.9) rotate(-90)" font-size="13.2" class="g" text-anchor="middle">Apr 2024</text>
<text transform="translate(645.70 400.9) rotate(-90)" font-size="13.2" class="g" text-anchor="middle">May 2024</text>
<text transform="translate(671.85 400.9) rotate(-90)" font-size="13.2" class="g" text-anchor="middle">Jun 2024</text>
<text transform="translate(697.16 400.9) rotate(-90)" font-size="13.2" class="g" text-anchor="middle">Jul 2024</text>
<text transform="translate(723.32 400.9) rotate(-90)" font-size="13.2" class="g" text-anchor="middle">Aug 2024</text>
<text transform="translate(749.47 400.9) rotate(-90)" font-size="13.2" class="g" text-anchor="middle">Sep 2024</text>
<text transform="translate(774.78 400.9) rotate(-90)" font-size="13.2" class="g" text-anchor="middle">Oct 2024</text>
<text transform="translate(800.94 400.9) rotate(-90)" font-size="13.2" class="g" text-anchor="middle">Nov 2024</text>
<text transform="translate(826.25 400.9) rotate(-90)" font-size="13.2" class="g" text-anchor="middle">Dec 2024</text>
<text transform="translate(852.40 400.9) rotate(-90)" font-size="13.2" class="g" text-anchor="middle">Jan 2025</text>
<text transform="translate(878.56 400.9) rotate(-90)" font-size="13.2" class="g" text-anchor="middle">Feb 2025</text>
<text transform="translate(902.18 400.9) rotate(-90)" font-size="13.2" class="g" text-anchor="middle">Mar 2025</text>
<text transform="translate(928.34 400.9) rotate(-90)" font-size="13.2" class="g" text-anchor="middle">Apr 2025</text>
<text transform="translate(953.65 400.9) rotate(-90)" font-size="13.2" class="g" text-anchor="middle">May 2025</text>
<text transform="translate(16.4 186.0) rotate(-90)" font-size="12.3" class="k" text-anchor="middle">Voters (%)</text>
<path d="M152.2 458.2H168" stroke="#c40c14" stroke-width="2.2"/>
<text x="176" y="462.7" font-size="13.2" class="k">Australian Labor Party</text>
<path d="M315.5 458.2H331.2" stroke="#000080" stroke-width="2.2"/>
<text x="339.2" y="462.7" font-size="13.3" class="k">Liberal-National Coalition</text>
<text x="512.3" y="462.7" font-size="12.3" class="k">Sample size:</text>
<circle cx="598.00" cy="458.0" r="4.60" fill="#000080" fill-opacity="0.3" stroke="#000080" stroke-opacity="0.3" stroke-width="0.9"/>
<circle cx="598.00" cy="458.0" r="4.60" fill="#c40c14" fill-opacity="0.3" stroke="#c40c14" stroke-opacity="0.3" stroke-width="0.9"/>
<text x="613.80" y="462.7" font-size="13.2" class="k">150</text>
<circle cx="651.60" cy="458.0" r="5.40" fill="#000080" fill-opacity="0.3" stroke="#000080" stroke-opacity="0.3" stroke-width="0.9"/>
<circle cx="651.60" cy="458.0" r="5.40" fill="#c40c14" fill-opacity="0.3" stroke="#c40c14" stroke-opacity="0.3" stroke-width="0.9"/>
<text x="667.50" y="462.7" font-size="13.2" class="k">200</text>
<circle cx="705.40" cy="458.0" r="6.10" fill="#000080" fill-opacity="0.3" stroke="#000080" stroke-opacity="0.3" stroke-width="0.9"/>
<circle cx="705.40" cy="458.0" r="6.10" fill="#c40c14" fill-opacity="0.3" stroke="#c40c14" stroke-opacity="0.3" stroke-width="0.9"/>
<text x="721.30" y="462.7" font-size="13.2" class="k">250</text>
<circle cx="759.20" cy="458.0" r="6.60" fill="#000080" fill-opacity="0.3" stroke="#000080" stroke-opacity="0.3" stroke-width="0.9"/>
<circle cx="759.20" cy="458.0" r="6.60" fill="#c40c14" fill-opacity="0.3" stroke="#c40c14" stroke-opacity="0.3" stroke-width="0.9"/>
<text x="775.00" y="462.7" font-size="13.2" class="k">300</text>
<circle cx="812.40" cy="458.0" r="7.00" fill="#000080" fill-opacity="0.3" stroke="#000080" stroke-opacity="0.3" stroke-width="0.9"/>
<circle cx="812.40" cy="458.0" r="7.00" fill="#c40c14" fill-opacity="0.3" stroke="#c40c14" stroke-opacity="0.3" stroke-width="0.9"/>
<text x="828.50" y="462.7" font-size="13.2" class="k">350</text>
</svg></body></html>
